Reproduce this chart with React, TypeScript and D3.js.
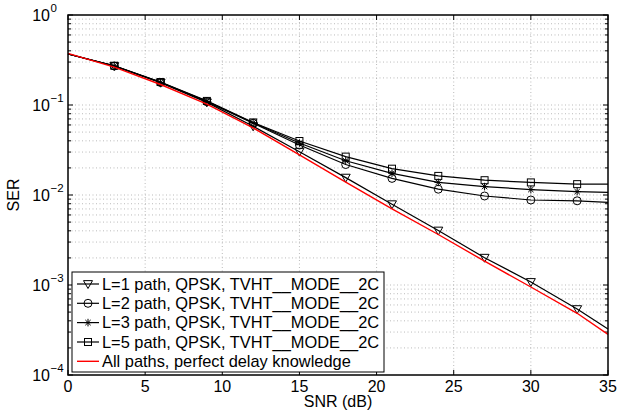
import React from "react";
import * as d3 from "d3";

const snr = [0, 3, 6, 9, 12, 15, 18, 21, 24, 27, 30, 33, 35];
const serL1 = [0.369, 0.271, 0.177, 0.107, 0.058, 0.0303, 0.0156, 0.0079, 0.00403, 0.00201, 0.00108, 0.00054, 0.000325];
const serL2 = [0.369, 0.271, 0.178, 0.109, 0.0627, 0.0359, 0.0218, 0.0153, 0.0116, 0.00975, 0.0088, 0.00862, 0.0083];
const serL3 = [0.369, 0.272, 0.179, 0.11, 0.0635, 0.0378, 0.024, 0.0174, 0.0138, 0.0124, 0.0115, 0.0109, 0.0107];
const serL5 = [0.369, 0.273, 0.18, 0.111, 0.064, 0.0398, 0.0267, 0.0196, 0.0163, 0.0146, 0.0138, 0.0132, 0.0132];
const serPerfect = [0.375, 0.264, 0.169, 0.1025, 0.0557, 0.0279, 0.0139, 0.007, 0.00364, 0.00184, 0.00095, 0.000485, 0.000283];
const markerSnr = [3, 6, 9, 12, 15, 18, 21, 24, 27, 30, 33];
const xTicks = [0, 5, 10, 15, 20, 25, 30, 35];
const yExps = [0, -1, -2, -3, -4];
const legendLabels = [
  "L=1 path, QPSK, TVHT__MODE__2C",
  "L=2 path, QPSK, TVHT__MODE__2C",
  "L=3 path, QPSK, TVHT__MODE__2C",
  "L=5 path, QPSK, TVHT__MODE__2C",
  "All paths, perfect delay knowledge",
];

const W = 624, H = 411;
const L = 68, R = 608, T = 15, B = 375;
const FONT = "Arial, 'Liberation Sans', Helvetica, sans-serif";

type MK = "tri" | "circ" | "star" | "sq" | "none";

function Marker({ kind, x, y }: { kind: MK; x: number; y: number }) {
  const st = { fill: "none", stroke: "#000", strokeWidth: 1 };
  if (kind === "tri") {
    const s = 4.5;
    return <path d={`M${x - s},${y - s * 0.75} L${x + s},${y - s * 0.75} L${x},${y + s} Z`} {...st} />;
  }
  if (kind === "circ") return <circle cx={x} cy={y} r={4} {...st} />;
  if (kind === "sq") return <rect x={x - 3.5} y={y - 3.5} width={7} height={7} {...st} />;
  if (kind === "star") {
    const s = 3.8, d = s * 0.7;
    return (
      <path
        d={`M${x - s},${y} L${x + s},${y} M${x},${y - s} L${x},${y + s} M${x - d},${y - d} L${x + d},${y + d} M${x - d},${y + d} L${x + d},${y - d}`}
        {...st}
      />
    );
  }
  return null;
}

export default function App() {
  const x = d3.scaleLinear().domain([0, 35]).range([L, R]);
  const y = d3.scaleLog().domain([1e-4, 1]).range([B, T]);

  const line = d3
    .line<[number, number]>()
    .x((d) => x(d[0]))
    .y((d) => y(d[1]));

  const series: { vals: number[]; mk: MK; color: string; w: number }[] = [
    { vals: serL1, mk: "tri", color: "#000", w: 1.2 },
    { vals: serL2, mk: "circ", color: "#000", w: 1.2 },
    { vals: serL3, mk: "star", color: "#000", w: 1.2 },
    { vals: serL5, mk: "sq", color: "#000", w: 1.2 },
    { vals: serPerfect, mk: "none", color: "#ff0000", w: 1.4 },
  ];

  const minorY: number[] = [];
  for (let e = -4; e < 0; e++) for (let m = 1; m <= 9; m++) minorY.push(m * Math.pow(10, e));
  minorY.push(1);

  const legX = 72, legY = 272, legW = 312, legH = 100;
  const rowY = [284, 303.3, 322.6, 342, 361.3];

  return (
    <svg width={W} height={H} style={{ position: "absolute", left: 0, top: 0, background: "#fff" }}>
      <rect x={0} y={0} width={W} height={H} fill="#fff" />
      {/* grid */}
      <g stroke="#aaa" strokeWidth={0.8} strokeDasharray="1,2.5">
        {xTicks.slice(1, -1).map((t) => (
          <line key={"gx" + t} x1={x(t)} x2={x(t)} y1={T} y2={B} />
        ))}
        {minorY.slice(1, -1).map((v, i) => (
          <line key={"gy" + i} x1={L} x2={R} y1={y(v)} y2={y(v)} />
        ))}
      </g>
      {/* ticks */}
      <g stroke="#000" strokeWidth={1}>
        {xTicks.map((t) => (
          <g key={"tx" + t}>
            <line x1={x(t)} x2={x(t)} y1={B} y2={B - 5} />
            <line x1={x(t)} x2={x(t)} y1={T} y2={T + 5} />
          </g>
        ))}
        {minorY.map((v, i) => {
          const major = Math.abs(Math.log10(v) - Math.round(Math.log10(v))) < 1e-9;
          const len = major ? 5 : 3;
          return (
            <g key={"ty" + i}>
              <line x1={L} x2={L + len} y1={y(v)} y2={y(v)} />
              <line x1={R} x2={R - len} y1={y(v)} y2={y(v)} />
            </g>
          );
        })}
      </g>
      {/* series */}
      {series.map((s, i) => (
        <g key={"s" + i}>
          <path
            d={line(snr.map((v, j) => [v, s.vals[j]] as [number, number])) || ""}
            fill="none"
            stroke={s.color}
            strokeWidth={s.w}
          />
          {s.mk !== "none" &&
            markerSnr.map((m) => {
              const j = snr.indexOf(m);
              return <Marker key={m} kind={s.mk} x={x(m)} y={y(s.vals[j])} />;
            })}
        </g>
      ))}
      {/* frame */}
      <rect x={L} y={T} width={R - L} height={B - T} fill="none" stroke="#000" strokeWidth={1.5} />
      {/* x tick labels */}
      <g fontFamily={FONT} fontSize={16} fill="#000" textAnchor="middle">
        {xTicks.map((t) => (
          <text key={"xl" + t} x={x(t)} y={392}>
            {t}
          </text>
        ))}
        <text x={(L + R) / 2} y={407}>SNR (dB)</text>
      </g>
      {/* y tick labels */}
      <g fontFamily={FONT} fill="#000">
        {yExps.map((e) => (
          <g key={"yl" + e}>
            <text x={50} y={y(Math.pow(10, e)) + 6} fontSize={16} textAnchor="end">
              10
            </text>
            <text x={50.5} y={y(Math.pow(10, e)) - 3} fontSize={11.5} textAnchor="start">
              {e === 0 ? "0" : "\u2212" + Math.abs(e)}
            </text>
          </g>
        ))}
        <text
          x={0}
          y={0}
          fontSize={16}
          textAnchor="middle"
          transform={`translate(19,${(T + B) / 2}) rotate(-90)`}
        >
          SER
        </text>
      </g>
      {/* legend */}
      <g>
        <rect x={legX} y={legY} width={legW} height={legH} fill="#fff" stroke="#000" strokeWidth={1} />
        {series.map((s, i) => (
          <g key={"lg" + i}>
            <line x1={77} x2={99} y1={rowY[i]} y2={rowY[i]} stroke={s.color} strokeWidth={s.w} />
            <Marker kind={s.mk} x={88} y={rowY[i]} />
            <text x={102} y={rowY[i] + 5.8} fontFamily={FONT} fontSize={16.4} fill="#000">
              {legendLabels[i]}
            </text>
          </g>
        ))}
      </g>
    </svg>
  );
}
